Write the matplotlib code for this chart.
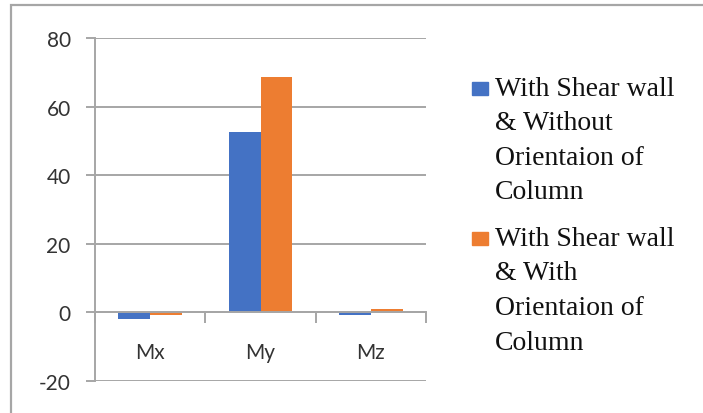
import matplotlib
matplotlib.use("Agg")
import matplotlib.pyplot as plt
from matplotlib.patches import Rectangle
import numpy as np

categories = ["Mx", "My", "Mz"]
series_names = [
    "With Shear wall\n& Without\nOrientaion of\nColumn",
    "With Shear wall\n& With\nOrientaion of\nColumn",
]
without_orientation = [-2.0, 52.5, -0.8]
with_orientation = [-0.8, 68.5, 1.1]
series_values = [without_orientation, with_orientation]
colors = ["#4472C4", "#ED7D31"]
y_ticks = [-20, 0, 20, 40, 60, 80]

W, H = 703, 414
fig = plt.figure(figsize=(W / 100, H / 100), dpi=100)

# outer chart frame
fig.patches.append(Rectangle((11 / W, -0.05), 1.2, 1 - 6 / H + 0.05,
                             transform=fig.transFigure, fill=False,
                             edgecolor="#A6A6A6", linewidth=1.6))

ax = fig.add_axes([95 / W, 1 - 382 / H, (426 - 95) / W, (382 - 39) / H])

x = np.arange(len(categories))
bw = 0.29
for i, (vals, c) in enumerate(zip(series_values, colors)):
    ax.bar(x + (i - 0.5) * bw, vals, width=bw, color=c, zorder=3)

ax.set_xlim(-0.5, len(categories) - 0.5)
ax.set_ylim(min(y_ticks), max(y_ticks))
ax.set_yticks(y_ticks)
ax.set_yticklabels([str(v) for v in y_ticks])
ax.grid(axis="y", color="#A6A6A6", linewidth=1.4, zorder=0)

for s in ["top", "right"]:
    ax.spines[s].set_visible(False)
ax.spines["left"].set_color("#A6A6A6")
ax.spines["left"].set_linewidth(1.4)
ax.spines["bottom"].set_position(("data", 0))
ax.spines["bottom"].set_color("#A6A6A6")
ax.spines["bottom"].set_linewidth(1.4)
ax.spines["bottom"].set_zorder(4)

tick_font = dict(family=["Lato", "DejaVu Sans"], size=15)
ax.set_xticks(x)
ax.set_xticklabels(categories, fontdict=tick_font, color="#333333")
ax.set_xticks(np.arange(len(categories) + 1) - 0.5, minor=True)
ax.tick_params(axis="x", which="major", length=0, pad=21)
ax.tick_params(axis="x", which="minor", length=8, width=1.4, color="#A6A6A6",
               direction="out")
for lab in ax.get_yticklabels():
    lab.set_fontfamily(["Lato", "DejaVu Sans"])
    lab.set_fontsize(15)
    lab.set_color("#333333")
ax.tick_params(axis="y", length=6.5, width=1.4, color="#A6A6A6", pad=11)

# legend drawn beside the plot
legend_tops = [77, 227]
for name, c, yt in zip(series_names, colors, legend_tops):
    fig.patches.append(Rectangle((472 / W, 1 - (yt + 19) / H), 16 / W, 13 / H,
                                 transform=fig.transFigure, color=c))
    fig.text(495 / W, 1 - yt / H, name, ha="left", va="top",
             family=["Liberation Serif", "DejaVu Serif"], size=20,
             color="#111111", linespacing=1.5)

fig.savefig("out.png", dpi=100)
